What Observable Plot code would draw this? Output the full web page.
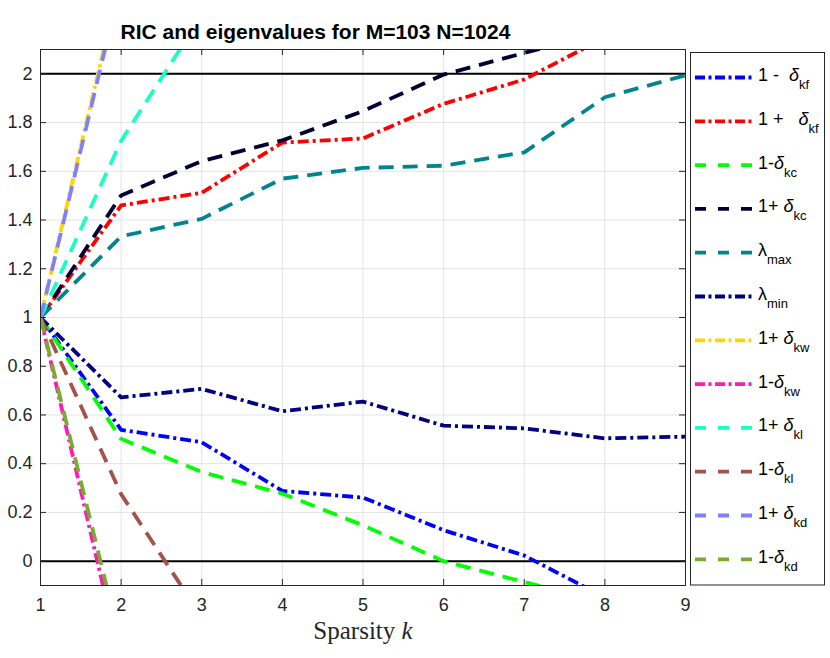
<!DOCTYPE html>
<html><head><meta charset="utf-8">
<script src="https://cdn.jsdelivr.net/npm/d3@7"></script>
<script src="https://cdn.jsdelivr.net/npm/@observablehq/plot@0.6"></script>
<style>body{margin:0;background:#fff} #chart{width:830px;height:658px}</style>
</head><body><div id="chart"></div>
<script>
// ---- data ----
const k = [1, 2, 3, 4, 5, 6, 7, 8, 9];
const xTicks = [1, 2, 3, 4, 5, 6, 7, 8, 9];
const yTicks = [0, 0.2, 0.4, 0.6, 0.8, 1, 1.2, 1.4, 1.6, 1.8, 2];
const refLines = [0, 2];

const oneMinusDeltaKf = [1, 0.539, 0.488, 0.288, 0.261, 0.127, 0.023, -0.149];
const onePlusDeltaKf  = [1, 1.460, 1.512, 1.718, 1.735, 1.877, 1.977, 2.149];
const oneMinusDeltaKc = [1, 0.502, 0.366, 0.277, 0.147, 0.000, -0.086, -0.170];
const onePlusDeltaKc  = [1, 1.501, 1.642, 1.727, 1.847, 1.997, 2.086, 2.170];
const lambdaMax       = [1, 1.333, 1.405, 1.570, 1.614, 1.623, 1.678, 1.904, 1.994];
const lambdaMin       = [1, 0.672, 0.707, 0.615, 0.655, 0.556, 0.545, 0.504, 0.511];
const onePlusDeltaKw  = [1, 2.405];
const oneMinusDeltaKw = [1, -0.420];
const onePlusDeltaKl  = [1, 1.725, 2.240];
const oneMinusDeltaKl = [1, 0.275, -0.230];
const onePlusDeltaKd  = [1, 2.375];
const oneMinusDeltaKd = [1, -0.345];

const seriesValues = [oneMinusDeltaKf, onePlusDeltaKf, oneMinusDeltaKc, onePlusDeltaKc,
  lambdaMax, lambdaMin, onePlusDeltaKw, oneMinusDeltaKw, onePlusDeltaKl, oneMinusDeltaKl,
  onePlusDeltaKd, oneMinusDeltaKd];
// legend labels: prefix, symbol, subscript
const legendPre = ["1 -  ", "1 +   ", "1-", "1+ ", "", "", "1+ ", "1-", "1+ ", "1-", "1+ ", "1-"];
const legendSym = ["δ", "δ", "δ", "δ", "λ", "λ", "δ", "δ", "δ", "δ", "δ", "δ"];
const legendSub = ["kf", "kf", "kc", "kc", "max", "min", "kw", "kw", "kl", "kl", "kd", "kd"];

// ---- styles ----
const colors = ["#0000ff", "#ff0000", "#00ff00", "#000033", "#00858f", "#000080",
  "#ffd500", "#ff1ab3", "#1affc6", "#a2534d", "#8080ff", "#77ac30"];
const DASHDOT = "11,4,3,4", DASHED = "15,9";
const dashes = [DASHDOT, DASHDOT, DASHED, DASHED, DASHED, DASHDOT, DASHDOT, DASHDOT,
  DASHED, DASHED, DASHED, DASHED];
const LW = 3.8;

const rows = [];
seriesValues.forEach((vals, i) => vals.forEach((v, j) => rows.push({s: i, k: k[j], v})));

const W = 830, H = 658, mL = 40, mR = 145, mT = 49, mB = 73;
const pw = W - mL - mR, ph = H - mT - mB;
const axisColor = "#262626";

const plot = Plot.plot({
  width: W, height: H, marginLeft: mL, marginRight: mR, marginTop: mT, marginBottom: mB,
  x: {domain: [1, 9]},
  y: {domain: [-0.1, 2.1]},
  style: {fontFamily: "'Liberation Sans', Arial, sans-serif", fontSize: "18px", color: axisColor, background: "white"},
  marks: [
    Plot.gridX(xTicks, {stroke: "#e3e3e3", strokeOpacity: 1}),
    Plot.gridY(yTicks, {stroke: "#e3e3e3", strokeOpacity: 1}),
    Plot.ruleY(refLines, {stroke: "black", strokeWidth: 2}),
    ...seriesValues.map((_, i) => Plot.line(rows.filter(r => r.s === i), {
      x: "k", y: "v", stroke: colors[i], strokeWidth: LW, strokeDasharray: dashes[i],
      strokeLinejoin: "round", strokeLinecap: "butt", clip: true
    })),
    Plot.frame({stroke: axisColor, strokeWidth: 1}),
    Plot.tickX(xTicks, {x: d => d, insetTop: ph - 6, stroke: axisColor}),
    Plot.tickX(xTicks, {x: d => d, insetBottom: ph - 6, stroke: axisColor}),
    Plot.tickY(yTicks, {y: d => d, insetRight: pw - 6, stroke: axisColor}),
    Plot.tickY(yTicks, {y: d => d, insetLeft: pw - 6, stroke: axisColor}),
    Plot.axisX(xTicks, {tickSize: 0, tickPadding: 13, label: null, tickFormat: d => String(d), fontSize: 18}),
    Plot.axisY(yTicks, {tickSize: 0, tickPadding: 8, label: null, tickFormat: d => String(+d.toFixed(1)), fontSize: 18})
  ]
});
document.getElementById("chart").appendChild(plot);

const svg = d3.select(plot);
// title
svg.append("text").attr("x", 315.5).attr("y", 39.3).attr("text-anchor", "middle")
  .attr("font-family", "'Liberation Sans', Arial, sans-serif").attr("font-weight", "bold")
  .attr("font-size", 21).attr("fill", "black").text("RIC and eigenvalues for M=103 N=1024");
// x label
const xl = svg.append("text").attr("x", 363).attr("y", 639).attr("text-anchor", "middle")
  .attr("font-family", "'Liberation Serif', 'Times New Roman', serif").attr("font-size", 25)
  .attr("fill", axisColor);
xl.append("tspan").text("Sparsity ");
xl.append("tspan").attr("font-style", "italic").text("k");

// legend
const lg = svg.append("g").attr("text-anchor", "start");
lg.append("rect").attr("x", 690.5).attr("y", 52.5).attr("width", 134).attr("height", 532.5)
  .attr("fill", "white").attr("stroke", axisColor).attr("stroke-width", 1);
seriesValues.forEach((_, i) => {
  const cy = 77.5 + i * 43.8;
  lg.append("line").attr("x1", 695).attr("x2", 754).attr("y1", cy).attr("y2", cy)
    .attr("stroke", colors[i]).attr("stroke-width", LW)
    .attr("stroke-dasharray", dashes[i] === DASHED ? "11,12" : "10,3.5,3,3.5");
  const t = lg.append("text").attr("x", 758).attr("y", cy + 3.5).attr("text-anchor", "start")
    .attr("font-family", "'Liberation Sans', Arial, sans-serif").attr("font-size", 18)
    .attr("fill", "black").style("white-space", "pre");
  if (legendPre[i]) t.append("tspan").text(legendPre[i]);
  t.append("tspan").attr("font-style", legendSym[i] === "δ" ? "italic" : "normal").text(legendSym[i]);
  t.append("tspan").attr("font-size", 13).attr("dy", 8).text(legendSub[i]);
});
</script></body></html>
